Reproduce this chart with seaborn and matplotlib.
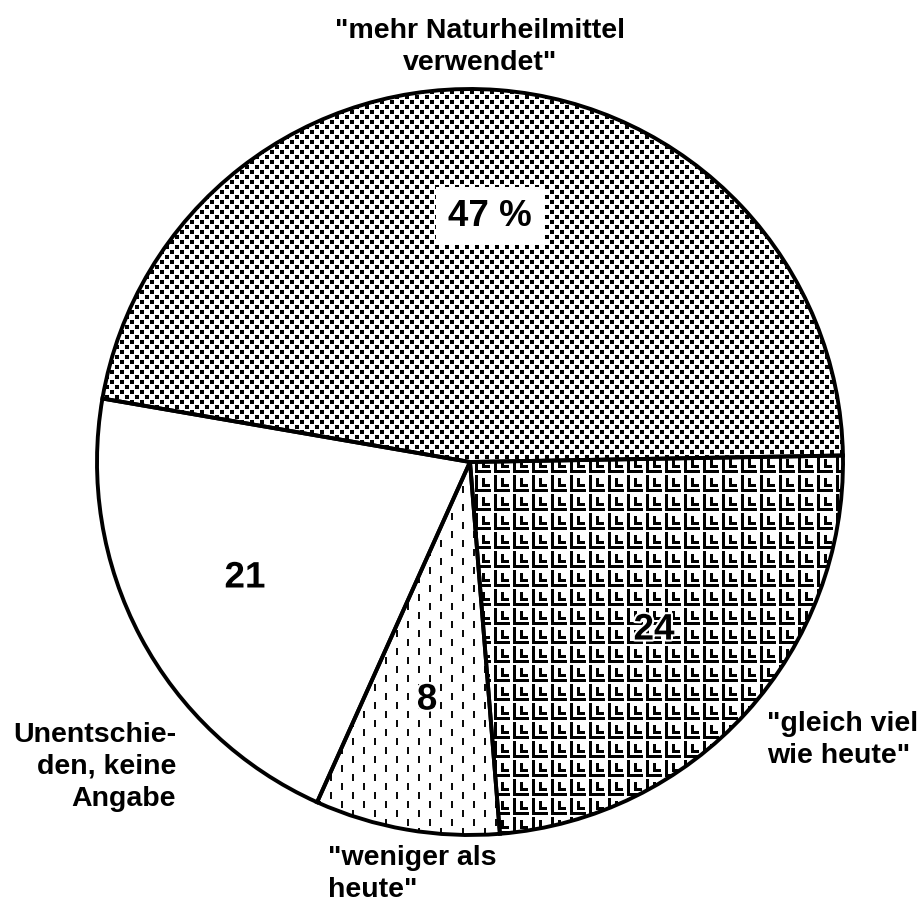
import numpy as np
import matplotlib
matplotlib.use("Agg")
import matplotlib.pyplot as plt
import matplotlib.patheffects as pe
import seaborn as sns

sns.set_theme(style="white")
plt.rcParams['font.family'] = ['Liberation Sans', 'DejaVu Sans']
plt.rcParams['text.color'] = 'black'

# --- data ---------------------------------------------------------------
answers = ['"mehr Naturheilmittel\nverwendet"',
           'Unentschie-\nden, keine\nAngabe',
           '"weniger als\nheute"',
           '"gleich viel\nwie heute"']
shares = [47, 21, 8, 24]
inner_labels = ["47 %", "21", "8", "24"]

W, H = 923, 907
CX, CY, R = 470, H - 462, 373


def tile_dots():
    t = np.ones((10, 10))
    t[0:4, 0:4] = 0
    t[5:9, 5:9] = 0
    return t


def tile_ell():
    t = np.ones((19, 19))
    t[0:17, 0:3] = 0          # outer L, vertical
    t[14:17, 0:16] = 0        # outer L, horizontal
    t[3:12, 7:10] = 0         # inner L, vertical
    t[9:12, 7:15] = 0         # inner L, horizontal
    return t


def tile_dash():
    t = np.ones((18, 22))
    t[0:7, 0:2] = 0.05
    t[9:16, 11:13] = 0.05
    return t


def full(tile):
    reps = (H // tile.shape[0] + 2, W // tile.shape[1] + 2)
    return np.tile(tile, reps)[:H, :W]


patterns = [full(tile_dots()), None, full(tile_dash()), full(tile_ell())]

fig = plt.figure(figsize=(W / 100, H / 100), dpi=100)
ax = fig.add_axes([0, 0, 1, 1])

wedges, _ = ax.pie(shares, startangle=1, counterclock=True,
                   center=(CX, CY), radius=R,
                   colors=["none"] * 4,
                   wedgeprops=dict(edgecolor="black", linewidth=2.8, zorder=3))

for w, pat in zip(wedges, patterns):
    if pat is None:
        continue
    im = ax.imshow(pat, extent=(0, W, 0, H), origin="upper", cmap="gray",
                   vmin=0, vmax=1, interpolation="nearest", zorder=1)
    im.set_clip_path(w)

ax.set_xlim(0, W)
ax.set_ylim(0, H)
ax.set_aspect("auto")
ax.axis("off")

# numbers inside the slices
num_pos = [(490, 216), (245, 578), (427, 700), (654, 630)]
for lab, (x, y) in zip(inner_labels, num_pos):
    kw = {}
    if lab.endswith("%"):
        kw["bbox"] = dict(boxstyle="square,pad=0.32", fc="white", ec="none")
    else:
        kw["path_effects"] = [pe.withStroke(linewidth=3, foreground="white")]
    ax.text(x, H - y, lab, ha="center", va="center", fontsize=26.5,
            fontweight="bold", color="black", zorder=5, **kw)

# outer category labels
out_pos = [(480, 47, "center"), (176, 767, "right"),
           (328, 874, "left"), (767, 740, "left")]
for lab, (x, y, ha) in zip(answers, out_pos):
    ax.text(x, H - y, lab, ha=ha, va="center", multialignment=ha,
            fontsize=20.5, fontweight="bold", linespacing=1.3,
            color="black", zorder=5)

fig.savefig("out.png", dpi=100, facecolor="white")
